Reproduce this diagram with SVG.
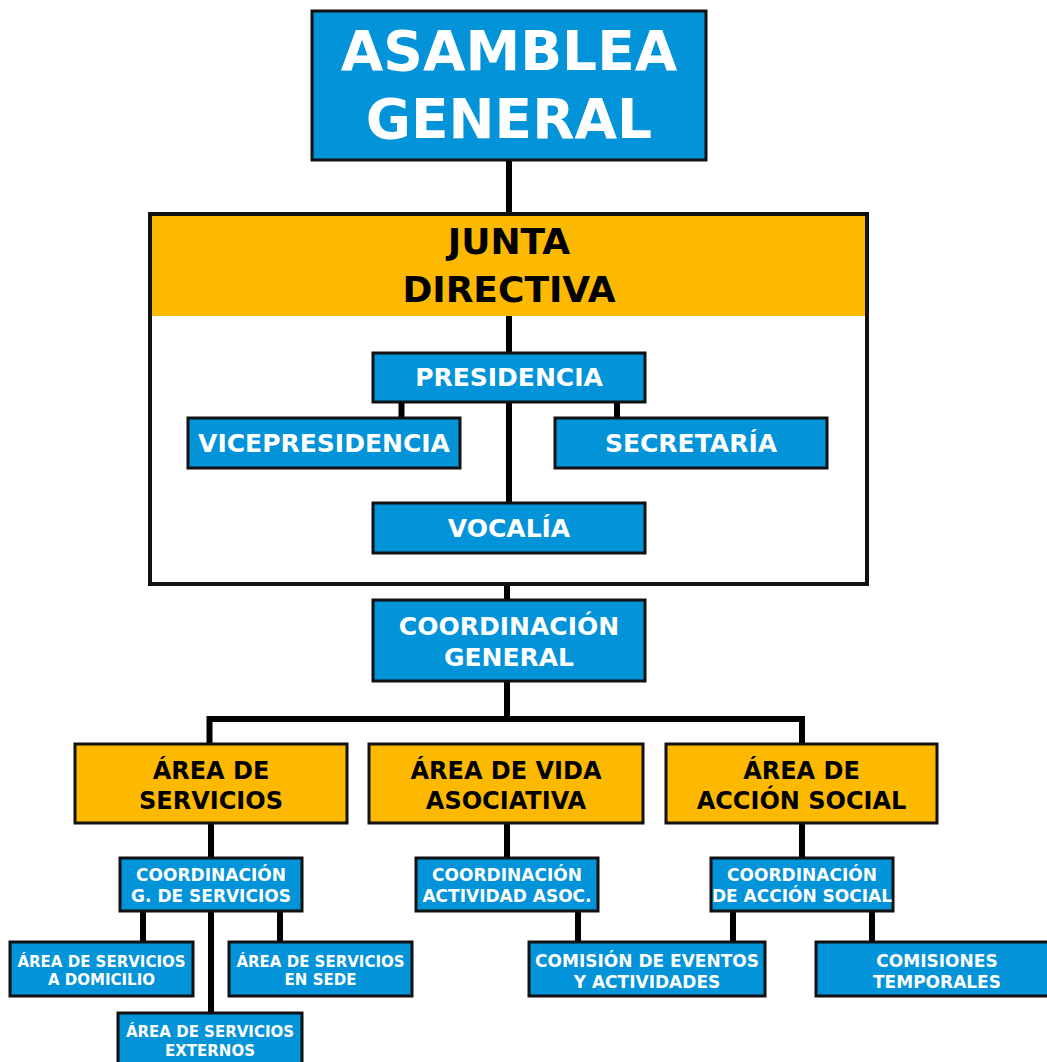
<svg xmlns="http://www.w3.org/2000/svg" width="1047" height="1062" viewBox="0 0 1047 1062">
<style>
.b{fill:#0393D8;stroke:#111;stroke-width:3}
.o{fill:#FDB800;stroke:#111;stroke-width:3}
.w{fill:#fff;font-family:"DejaVu Sans",sans-serif;font-weight:bold;text-anchor:middle}
.k{fill:#000;font-family:"DejaVu Sans",sans-serif;font-weight:bold;text-anchor:middle}
.c{fill:none;stroke:#000;stroke-width:6}
</style>
<rect width="1047" height="1062" fill="#fff"/>
<g id="connectors" class="c">
<path d="M509,160V214"/>
<path d="M509,316V353"/>
<path d="M401.5,402V418"/>
<path d="M617,402V418"/>
<path d="M509,402V503"/>
<path d="M507,584V600"/>
<path d="M507,681V719"/>
<path d="M209.5,744V719H802V744"/>
<path d="M211,823V858"/>
<path d="M507,823V858"/>
<path d="M802,823V858"/>
<path d="M143,911V942"/>
<path d="M211,911V1013"/>
<path d="M280,911V942"/>
<path d="M578,911V942"/>
<path d="M733,911V942"/>
<path d="M872,911V942"/>
</g>
<g id="asamblea">
<rect class="b" x="312" y="11" width="394" height="149"/>
<text class="w" font-size="55" x="509" y="70">ASAMBLEA</text>
<text class="w" font-size="55" x="509" y="138">GENERAL</text>
</g>
<g id="junta">
<rect x="150" y="214" width="717" height="370" fill="#fff" stroke="#111" stroke-width="4"/>
<rect x="152" y="216" width="713" height="100" fill="#FDB800"/>
<text class="k" font-size="36" x="509" y="254">JUNTA</text>
<text class="k" font-size="36" x="509" y="302">DIRECTIVA</text>
<path d="M509,316V353" class="c"/>
<path d="M401.5,402V418" class="c"/>
<path d="M617,402V418" class="c"/>
<path d="M509,402V503" class="c"/>
</g>
<g id="presidencia">
<rect class="b" x="373" y="353" width="272" height="49"/>
<text class="w" font-size="25" x="509" y="386">PRESIDENCIA</text>
</g>
<g id="vicepresidencia">
<rect class="b" x="188" y="418" width="272" height="50"/>
<text class="w" font-size="25" x="324" y="452">VICEPRESIDENCIA</text>
</g>
<g id="secretaria">
<rect class="b" x="555" y="418" width="272" height="50"/>
<text class="w" font-size="25" x="691" y="452">SECRETARÍA</text>
</g>
<g id="vocalia">
<rect class="b" x="373" y="503" width="272" height="50"/>
<text class="w" font-size="25" x="509" y="537">VOCALÍA</text>
</g>
<g id="coord-general">
<rect class="b" x="373" y="600" width="272" height="81"/>
<text class="w" font-size="25" x="509" y="635">COORDINACIÓN</text>
<text class="w" font-size="25" x="509" y="666">GENERAL</text>
</g>
<g id="area-servicios">
<rect class="o" x="75" y="744" width="272" height="79"/>
<text class="k" font-size="24" x="211" y="779">ÁREA DE</text>
<text class="k" font-size="24" x="211" y="809">SERVICIOS</text>
</g>
<g id="area-vida">
<rect class="o" x="369" y="744" width="274" height="79"/>
<text class="k" font-size="24" x="506" y="779">ÁREA DE VIDA</text>
<text class="k" font-size="24" x="506" y="809">ASOCIATIVA</text>
</g>
<g id="area-accion">
<rect class="o" x="666" y="744" width="271" height="79"/>
<text class="k" font-size="24" x="801.5" y="779">ÁREA DE</text>
<text class="k" font-size="24" x="801.5" y="809">ACCIÓN SOCIAL</text>
</g>
<g id="coord-servicios">
<rect class="b" x="120" y="858" width="182" height="53"/>
<text class="w" font-size="17" x="211" y="881">COORDINACIÓN</text>
<text class="w" font-size="17" x="211" y="902">G. DE SERVICIOS</text>
</g>
<g id="coord-actividad">
<rect class="b" x="416" y="858" width="182" height="53"/>
<text class="w" font-size="17" x="507" y="881">COORDINACIÓN</text>
<text class="w" font-size="17" x="507" y="902">ACTIVIDAD ASOC.</text>
</g>
<g id="coord-accion">
<rect class="b" x="711" y="858" width="182" height="53"/>
<text class="w" font-size="17" x="802" y="881">COORDINACIÓN</text>
<text class="w" font-size="17" x="802" y="902">DE ACCIÓN SOCIAL</text>
</g>
<g id="servicios-domicilio">
<rect class="b" x="10" y="942" width="183" height="54"/>
<text class="w" font-size="15" x="101.5" y="967">ÁREA DE SERVICIOS</text>
<text class="w" font-size="15" x="101.5" y="985">A DOMICILIO</text>
</g>
<g id="servicios-sede">
<rect class="b" x="229" y="942" width="183" height="54"/>
<text class="w" font-size="15" x="320.5" y="967">ÁREA DE SERVICIOS</text>
<text class="w" font-size="15" x="320.5" y="985">EN SEDE</text>
</g>
<g id="servicios-externos">
<rect class="b" x="118" y="1013" width="184" height="60"/>
<text class="w" font-size="15" x="210" y="1037">ÁREA DE SERVICIOS</text>
<text class="w" font-size="15" x="210" y="1056">EXTERNOS</text>
</g>
<g id="comision-eventos">
<rect class="b" x="529" y="942" width="236" height="54"/>
<text class="w" font-size="17" x="647" y="967">COMISIÓN DE EVENTOS</text>
<text class="w" font-size="17" x="647" y="988">Y ACTIVIDADES</text>
</g>
<g id="comisiones-temporales">
<rect class="b" x="816" y="942" width="240" height="54"/>
<text class="w" font-size="17" x="937" y="967">COMISIONES</text>
<text class="w" font-size="17" x="937" y="988">TEMPORALES</text>
</g>
</svg>
